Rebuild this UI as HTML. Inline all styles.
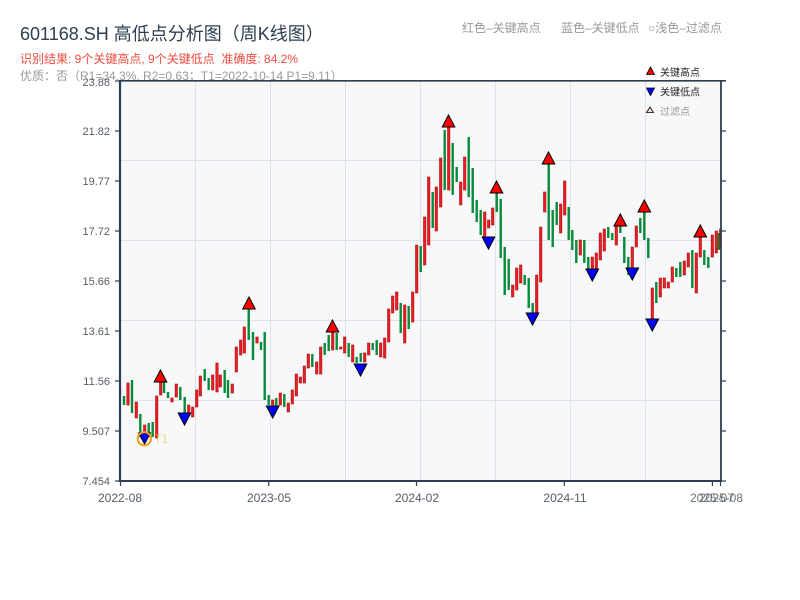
<!DOCTYPE html>
<html><head><meta charset="utf-8"><style>
html,body{margin:0;padding:0;background:#fff;}
svg{display:block;font-family:"Liberation Sans","Noto Sans CJK SC",sans-serif;}
.r{fill:#ee1c25;stroke:#a80d0d;stroke-width:.6}
.g{fill:#078a3a}
.up{fill:#ff0000;stroke:#000;stroke-width:1}
.dn{fill:#0000ff;stroke:#000;stroke-width:1}
.yl{font-size:11px;fill:#555d66;text-anchor:end}
.xl{font-size:12px;fill:#555d66;text-anchor:middle}
</style></head><body>
<svg width="800" height="600" viewBox="0 0 800 600" xmlns="http://www.w3.org/2000/svg">
<rect width="800" height="600" fill="#fff"/>
<!-- titles -->
<text x="20" y="40" font-size="18" fill="#2c3e50">601168.SH 高低点分析图（周K线图）</text>
<text x="20" y="63" font-size="12" fill="#ef4b40" xml:space="preserve">识别结果: 9个关键高点, 9个关键低点&#160;&#160;准确度: 84.2%</text>
<text x="20" y="80" font-size="12" fill="#9a9a9a">优质：否（R1=34.3%, R2=0.63；T1=2022-10-14 P1=9.11）</text>
<text x="462" y="32" font-size="12" fill="#999">红色–关键高点</text>
<text x="561" y="32" font-size="12" fill="#999">蓝色–关键低点</text>
<text x="648" y="32" font-size="12" fill="#999">○浅色–过滤点</text>

<!-- plot bg -->
<rect x="120" y="81" width="601" height="400" fill="#f7f8fa"/>
<g stroke="#dfe2e7" stroke-width="1">
<line x1="120" y1="160.5" x2="721" y2="160.5"/>
<line x1="120" y1="240.5" x2="721" y2="240.5"/>
<line x1="120" y1="320.5" x2="721" y2="320.5"/>
<line x1="120" y1="400.5" x2="721" y2="400.5"/>
<line x1="195.5" y1="81" x2="195.5" y2="481"/>
<line x1="270.5" y1="81" x2="270.5" y2="481"/>
<line x1="345.5" y1="81" x2="345.5" y2="481"/>
<line x1="420.5" y1="81" x2="420.5" y2="481"/>
<line x1="495.5" y1="81" x2="495.5" y2="481"/>
<line x1="570.5" y1="81" x2="570.5" y2="481"/>
<line x1="645.5" y1="81" x2="645.5" y2="481"/>
</g>

<clipPath id="pc"><rect x="120" y="80" width="601" height="401"/></clipPath>
<g clip-path="url(#pc)">
<rect class="r" x="118.5" y="390" width="2.4" height="3.5"/>
<rect class="g" x="122.8" y="396" width="2.4" height="9"/>
<rect class="r" x="126.8" y="383" width="2.4" height="22"/>
<rect class="g" x="130.8" y="380" width="2.4" height="33"/>
<rect class="r" x="135.1" y="402" width="2.4" height="16"/>
<rect class="g" x="139.1" y="414" width="2.4" height="23"/>
<rect class="r" x="143.5" y="425" width="2.4" height="12"/>
<rect class="g" x="147.5" y="423" width="2.4" height="14"/>
<rect class="g" x="151.5" y="422" width="2.4" height="15"/>
<rect class="r" x="155.5" y="396" width="2.4" height="42"/>
<rect class="r" x="159.5" y="382" width="2.4" height="13"/>
<rect class="g" x="162.8" y="380" width="2.4" height="13"/>
<rect class="g" x="166.8" y="392" width="2.4" height="6"/>
<rect class="r" x="170.8" y="398" width="2.4" height="4"/>
<rect class="r" x="175.1" y="384" width="2.4" height="13"/>
<rect class="g" x="179.1" y="387" width="2.4" height="13"/>
<rect class="g" x="183.5" y="397" width="2.4" height="16"/>
<rect class="r" x="187.5" y="405" width="2.4" height="10"/>
<rect class="r" x="191.5" y="407" width="2.4" height="10"/>
<rect class="r" x="195.5" y="390" width="2.4" height="17"/>
<rect class="r" x="199.1" y="376" width="2.4" height="20"/>
<rect class="g" x="203.5" y="369" width="2.4" height="12"/>
<rect class="g" x="207.5" y="378" width="2.4" height="12"/>
<rect class="r" x="211.5" y="375" width="2.4" height="15"/>
<rect class="r" x="215.8" y="363" width="2.4" height="29"/>
<rect class="r" x="219.1" y="375" width="2.4" height="12"/>
<rect class="g" x="223.5" y="370" width="2.4" height="23"/>
<rect class="g" x="226.8" y="380" width="2.4" height="18"/>
<rect class="r" x="231.1" y="384" width="2.4" height="9"/>
<rect class="r" x="235.1" y="347" width="2.4" height="25"/>
<rect class="r" x="239.5" y="340" width="2.4" height="15"/>
<rect class="r" x="243.1" y="327" width="2.4" height="26"/>
<rect class="g" x="247.5" y="309" width="2.4" height="31"/>
<rect class="g" x="251.8" y="332" width="2.4" height="28"/>
<rect class="r" x="255.8" y="337" width="2.4" height="6"/>
<rect class="g" x="259.8" y="342" width="2.4" height="8"/>
<rect class="g" x="263.5" y="332" width="2.4" height="68"/>
<rect class="g" x="267.5" y="395" width="2.4" height="10"/>

<rect class="r" x="271.5" y="400" width="2.4" height="5"/>
<rect class="g" x="275.1" y="398" width="2.4" height="9"/>
<rect class="r" x="279.1" y="393" width="2.4" height="12"/>
<rect class="g" x="283.1" y="394" width="2.4" height="13"/>
<rect class="r" x="287.1" y="403" width="2.4" height="9"/>
<rect class="r" x="291.1" y="390" width="2.4" height="14"/>
<rect class="r" x="295.1" y="374" width="2.4" height="22"/>
<rect class="r" x="299.1" y="377" width="2.4" height="6"/>
<rect class="r" x="303.1" y="366" width="2.4" height="17"/>
<rect class="r" x="307.1" y="354" width="2.4" height="14"/>
<rect class="g" x="311.1" y="354" width="2.4" height="13"/>
<rect class="r" x="315.5" y="362" width="2.4" height="12"/>
<rect class="r" x="319.5" y="347" width="2.4" height="27"/>
<rect class="g" x="323.5" y="343" width="2.4" height="12"/>
<rect class="g" x="327.5" y="335" width="2.4" height="16"/>
<rect class="r" x="331.5" y="332" width="2.4" height="18"/>
<rect class="g" x="335.5" y="333" width="2.4" height="17"/>
<rect class="r" x="339.5" y="347" width="2.4" height="2"/>
<rect class="r" x="343.5" y="337" width="2.4" height="16"/>
<rect class="g" x="347.5" y="343" width="2.4" height="14"/>
<rect class="r" x="351.5" y="345" width="2.4" height="17"/>
<rect class="g" x="355.5" y="357" width="2.4" height="6"/>
<rect class="g" x="359.5" y="353" width="2.4" height="9"/>
<rect class="r" x="363.5" y="353" width="2.4" height="9"/>
<rect class="r" x="367.5" y="343" width="2.4" height="12"/>
<rect class="g" x="371.5" y="343" width="2.4" height="7"/>
<rect class="g" x="375.5" y="340" width="2.4" height="15"/>
<rect class="r" x="379.5" y="343" width="2.4" height="14"/>
<rect class="r" x="383.5" y="338" width="2.4" height="20"/>
<rect class="r" x="387.5" y="309" width="2.4" height="33"/>
<rect class="r" x="391.5" y="296" width="2.4" height="17"/>
<rect class="r" x="395.5" y="292" width="2.4" height="18"/>
<rect class="g" x="399.5" y="303" width="2.4" height="30"/>
<rect class="r" x="403.5" y="305" width="2.4" height="38"/>
<rect class="g" x="407.5" y="306" width="2.4" height="23"/>
<rect class="r" x="411.5" y="292" width="2.4" height="30"/>
<rect class="r" x="415.5" y="245" width="2.4" height="48"/>
<rect class="g" x="419.5" y="246" width="2.4" height="26"/>

<rect class="r" x="423.5" y="217" width="2.4" height="48"/>
<rect class="r" x="427.5" y="177" width="2.4" height="68"/>
<rect class="g" x="431.5" y="192" width="2.4" height="36"/>
<rect class="r" x="435.1" y="187" width="2.4" height="44"/>
<rect class="r" x="439.5" y="158" width="2.4" height="49"/>
<rect class="g" x="443.5" y="130" width="2.4" height="60"/>
<rect class="r" x="447.5" y="127" width="2.4" height="63"/>
<rect class="g" x="451.5" y="143" width="2.4" height="52"/>
<rect class="g" x="455.5" y="167" width="2.4" height="15"/>
<rect class="r" x="459.5" y="182" width="2.4" height="23"/>
<rect class="r" x="463.5" y="157" width="2.4" height="33"/>
<rect class="g" x="467.5" y="137" width="2.4" height="60"/>
<rect class="g" x="471.5" y="168" width="2.4" height="45"/>
<rect class="g" x="475.5" y="200" width="2.4" height="22"/>
<rect class="g" x="479.5" y="210" width="2.4" height="25"/>
<rect class="r" x="483.5" y="212" width="2.4" height="25"/>
<rect class="r" x="487.5" y="220" width="2.4" height="8"/>
<rect class="r" x="491.5" y="208" width="2.4" height="17"/>
<rect class="g" x="495.5" y="192" width="2.4" height="20"/>
<rect class="g" x="499.5" y="199" width="2.4" height="59"/>
<rect class="g" x="503.5" y="247" width="2.4" height="48"/>
<rect class="g" x="507.5" y="259" width="2.4" height="31"/>
<rect class="r" x="511.5" y="285" width="2.4" height="12"/>
<rect class="r" x="515.5" y="268" width="2.4" height="22"/>
<rect class="r" x="519.5" y="265" width="2.4" height="18"/>
<rect class="g" x="523.5" y="275" width="2.4" height="10"/>
<rect class="g" x="527.5" y="278" width="2.4" height="30"/>
<rect class="g" x="531.5" y="303" width="2.4" height="10"/>
<rect class="r" x="535.5" y="275" width="2.4" height="38"/>
<rect class="r" x="539.5" y="227" width="2.4" height="55"/>
<rect class="r" x="543.5" y="192" width="2.4" height="20"/>
<rect class="g" x="547.5" y="163" width="2.4" height="77"/>
<rect class="g" x="551.5" y="210" width="2.4" height="37"/>
<rect class="g" x="555.5" y="202" width="2.4" height="23"/>
<rect class="r" x="559.5" y="204" width="2.4" height="29"/>
<rect class="r" x="563.5" y="181" width="2.4" height="34"/>
<rect class="g" x="567.5" y="207" width="2.4" height="33"/>

<rect class="g" x="571.1" y="230" width="2.4" height="20"/>
<rect class="g" x="575.1" y="240" width="2.4" height="23"/>
<rect class="r" x="579.1" y="240" width="2.4" height="15"/>
<rect class="g" x="583.1" y="240" width="2.4" height="23"/>
<rect class="g" x="587.1" y="257" width="2.4" height="12"/>
<rect class="r" x="591.1" y="257" width="2.4" height="18"/>
<rect class="r" x="595.1" y="253" width="2.4" height="19"/>
<rect class="r" x="599.1" y="233" width="2.4" height="27"/>
<rect class="r" x="603.1" y="229" width="2.4" height="22"/>
<rect class="g" x="607.1" y="227" width="2.4" height="11"/>
<rect class="g" x="611.1" y="233" width="2.4" height="7"/>
<rect class="r" x="615.1" y="225" width="2.4" height="20"/>
<rect class="g" x="619.1" y="226" width="2.4" height="7"/>
<rect class="g" x="623.1" y="237" width="2.4" height="26"/>
<rect class="g" x="627.1" y="257" width="2.4" height="18"/>
<rect class="r" x="631.1" y="247" width="2.4" height="28"/>
<rect class="r" x="635.1" y="226" width="2.4" height="21"/>
<rect class="g" x="639.1" y="218" width="2.4" height="15"/>
<rect class="g" x="643.1" y="212" width="2.4" height="28"/>
<rect class="g" x="647.1" y="238" width="2.4" height="20"/>
<rect class="r" x="651.1" y="288" width="2.4" height="32"/>
<rect class="g" x="655.1" y="282" width="2.4" height="21"/>
<rect class="r" x="659.1" y="278" width="2.4" height="19"/>
<rect class="r" x="663.1" y="278" width="2.4" height="10"/>
<rect class="r" x="667.1" y="282" width="2.4" height="6"/>
<rect class="r" x="671.1" y="267" width="2.4" height="15"/>
<rect class="g" x="675.1" y="268" width="2.4" height="9"/>
<rect class="g" x="679.1" y="262" width="2.4" height="15"/>
<rect class="r" x="683.1" y="261" width="2.4" height="14"/>
<rect class="r" x="687.1" y="253" width="2.4" height="14"/>
<rect class="g" x="691.1" y="250" width="2.4" height="38"/>
<rect class="r" x="695.1" y="253" width="2.4" height="40"/>
<rect class="r" x="699.1" y="237" width="2.4" height="20"/>
<rect class="g" x="703.1" y="250" width="2.4" height="15"/>
<rect class="g" x="707.1" y="257" width="2.4" height="11"/>
<rect class="r" x="711.1" y="235" width="2.4" height="22"/>
<rect class="r" x="715.1" y="231" width="2.4" height="22"/>
<rect class="g" x="717.3" y="233" width="2.4" height="17"/>
<rect class="r" x="719.5" y="229" width="2.4" height="20"/>

<!-- high markers -->
<polygon class="up" points="160.5,370 166.8,382 154.2,382"/>
<polygon class="up" points="249,297 255.3,309 242.7,309"/>
<polygon class="up" points="332.5,320 338.8,332 326.2,332"/>
<polygon class="up" points="448.5,115 454.8,127 442.2,127"/>
<polygon class="up" points="496.5,181 502.8,193 490.2,193"/>
<polygon class="up" points="548.5,152 554.8,164 542.2,164"/>
<polygon class="up" points="620.3,214 626.6,226 614,226"/>
<polygon class="up" points="644.3,200 650.6,212 638,212"/>
<polygon class="up" points="700.3,225 706.6,237 694,237"/>
<!-- low markers -->
<polygon class="dn" points="138.5,433 150.5,433 144.5,444"/>
<polygon class="dn" points="178.2,413 190.8,413 184.5,425"/>
<polygon class="dn" points="266.4,406 279,406 272.7,418"/>
<polygon class="dn" points="354.2,364 366.8,364 360.5,376"/>
<polygon class="dn" points="482.2,237 494.8,237 488.5,249"/>
<polygon class="dn" points="526.2,313 538.8,313 532.5,325"/>
<polygon class="dn" points="586,269 598.6,269 592.3,281"/>
<polygon class="dn" points="626,268 638.6,268 632.3,280"/>
<polygon class="dn" points="646,319 658.6,319 652.3,331"/>
<!-- T1 -->
<circle cx="144.3" cy="438.8" r="6.6" fill="none" stroke="#f39c12" stroke-width="2"/>
<text x="154" y="443" font-size="12" fill="#f5b041" fill-opacity="0.6">T1</text>
</g>

<!-- axes -->
<g stroke="#2c3e50">
<line x1="120" y1="80" x2="120" y2="482" stroke-width="2.2"/>
<line x1="119" y1="481" x2="722" y2="481" stroke-width="2"/>
<line x1="120" y1="80.8" x2="726" y2="80.8" stroke-width="1.6"/>
<line x1="721" y1="80" x2="721" y2="482" stroke-width="1.8"/>
</g>
<g stroke="#2c3e50" stroke-width="1.2">
<line x1="115" y1="131" x2="120" y2="131"/><line x1="115" y1="181" x2="120" y2="181"/>
<line x1="115" y1="231" x2="120" y2="231"/><line x1="115" y1="281" x2="120" y2="281"/>
<line x1="115" y1="331" x2="120" y2="331"/><line x1="115" y1="381" x2="120" y2="381"/>
<line x1="115" y1="431" x2="120" y2="431"/><line x1="115" y1="481" x2="120" y2="481"/>
<line x1="115" y1="81" x2="120" y2="81"/>
<line x1="721" y1="131" x2="726" y2="131"/><line x1="721" y1="181" x2="726" y2="181"/>
<line x1="721" y1="231" x2="726" y2="231"/><line x1="721" y1="281" x2="726" y2="281"/>
<line x1="721" y1="331" x2="726" y2="331"/><line x1="721" y1="381" x2="726" y2="381"/>
<line x1="721" y1="431" x2="726" y2="431"/><line x1="721" y1="481" x2="726" y2="481"/>
<line x1="120.5" y1="481" x2="120.5" y2="486"/>
<line x1="268.7" y1="481" x2="268.7" y2="486"/>
<line x1="416.5" y1="481" x2="416.5" y2="486"/>
<line x1="564.3" y1="481" x2="564.3" y2="486"/>
<line x1="712.4" y1="481" x2="712.4" y2="486"/>
<line x1="720.5" y1="481" x2="720.5" y2="486"/>
</g>
<!-- y labels -->
<text class="yl" x="110" y="86">23.88</text>
<text class="yl" x="110" y="135">21.82</text>
<text class="yl" x="110" y="185">19.77</text>
<text class="yl" x="110" y="235">17.72</text>
<text class="yl" x="110" y="285">15.66</text>
<text class="yl" x="110" y="335">13.61</text>
<text class="yl" x="110" y="385">11.56</text>
<text class="yl" x="110" y="435">9.507</text>
<text class="yl" x="110" y="485">7.454</text>
<!-- x labels -->
<text class="xl" x="120" y="502">2022-08</text>
<text class="xl" x="269" y="502">2023-05</text>
<text class="xl" x="417" y="502">2024-02</text>
<text class="xl" x="565" y="502">2024-11</text>
<text class="xl" x="712" y="502" fill-opacity="0.85">2025-07</text>
<text class="xl" x="721" y="502" fill-opacity="0.85">2025-08</text>

<!-- legend -->
<polygon points="650.5,67 654.5,74.5 646.5,74.5" fill="#ff0000" stroke="#000" stroke-width="0.8"/>
<text x="660" y="76" font-size="10" fill="#222">关键高点</text>
<polygon points="646.5,88 654.5,88 650.5,95.5" fill="#0000ff" stroke="#000" stroke-width="0.8"/>
<text x="660" y="95.5" font-size="10" fill="#222">关键低点</text>
<polygon points="650,107 653.5,112.5 646.5,112.5" fill="#ffd6d6" stroke="#000" stroke-width="0.8"/>
<text x="660" y="115" font-size="10" fill="#999">过滤点</text>
</svg>
</body></html>
